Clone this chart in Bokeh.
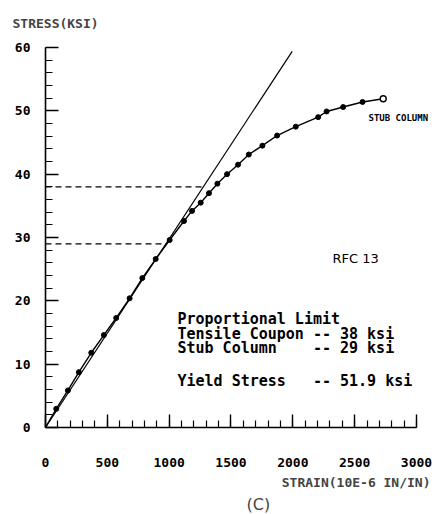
from bokeh.plotting import figure
from bokeh.models import Range1d, SingleIntervalTicker, Label, Title
from bokeh.embed import file_html
from bokeh.resources import INLINE

# Data
strain = [0, 87, 181, 270, 370, 472, 572, 680, 783, 891, 1004, 1120, 1185, 1255,
          1322, 1390, 1468, 1557, 1644, 1754, 1873, 2024, 2205, 2273, 2407, 2564, 2731]
stress = [0, 2.95, 5.85, 8.74, 11.8, 14.6, 17.3, 20.4, 23.6, 26.6, 29.6, 32.6, 34.2, 35.5,
          37.0, 38.5, 40.0, 41.5, 43.1, 44.5, 46.1, 47.5, 49.0, 49.9, 50.6, 51.4, 51.9]
elastic_x = [0, 1995]
elastic_y = [0, 59.4]
tensile_limit_x = [0, 1262]
tensile_limit_y = [38, 38]
stub_limit_x = [0, 975]
stub_limit_y = [29, 29]
x_ticks_interval = 500
y_ticks_interval = 10

MONO = "DejaVu Sans Mono"
NB = "\u00a0"

p = figure(width=437, height=514, output_backend="svg", toolbar_location=None,
           x_range=Range1d(0, 3170), y_range=Range1d(0, 60),
           min_border_left=45, min_border_right=0, min_border_top=47, min_border_bottom=87)
p.outline_line_color = None
p.xgrid.visible = False
p.ygrid.visible = False
p.background_fill_color = "white"
p.border_fill_color = "white"

for ax, interval in ((p.xaxis[0], x_ticks_interval), (p.yaxis[0], y_ticks_interval)):
    ax.ticker = SingleIntervalTicker(interval=interval, num_minor_ticks=5)
    ax.axis_line_width = 1.6
    ax.axis_line_color = "black"
    ax.major_tick_in = 13
    ax.major_tick_out = 0
    ax.minor_tick_in = 7
    ax.minor_tick_out = 0
    ax.major_tick_line_width = 1.4
    ax.minor_tick_line_width = 1.2
    ax.major_tick_line_color = "black"
    ax.minor_tick_line_color = "black"
    ax.major_label_text_font = MONO
    ax.major_label_text_font_style = "bold"
    ax.major_label_text_font_size = "13px"
    ax.major_label_text_color = "black"

p.xaxis[0].bounds = (0, 3000)
p.xaxis[0].major_label_standoff = 30
p.yaxis[0].major_label_standoff = 15

p.line(elastic_x, elastic_y, line_color="black", line_width=1.2)
p.line(tensile_limit_x, tensile_limit_y, line_color="black", line_width=1.1, line_dash="6 4")
p.line(stub_limit_x, stub_limit_y, line_color="black", line_width=1.1, line_dash="6 4")
p.line(strain, stress, line_color="black", line_width=1.4)
p.scatter(strain[1:-1], stress[1:-1], size=5, fill_color="black", line_color="black")
p.scatter(strain[-1:], stress[-1:], size=6, fill_color="white", line_color="black", line_width=1.4)

def lab(x, y, text, font=MONO, size="13px", style="bold", align="left"):
    p.add_layout(Label(x=x, y=y, text=text, text_font=font, text_font_size=size,
                       text_font_style=style, text_align=align, text_baseline="middle",
                       text_color="black"))

lab(2321, 26.7, "RFC 13", font="DejaVu Sans", size="13px", style="normal")
lab(2612, 48.9, "STUB COLUMN", size="9px")
lab(1067, 17.2, "Proportional Limit", size="15px")
lab(1067, 14.8, "Tensile Coupon -- 38 ksi", size="15px")
lab(1067, 12.6, "Stub Column" + NB * 4 + "-- 29 ksi", size="15px")
lab(1067, 7.3, "Yield Stress" + NB * 3 + "-- 51.9 ksi", size="15px")

p.add_layout(Title(text="STRESS(KSI)", align="left", vertical_align="top", offset=-33, standoff=30,
                   text_font=MONO, text_font_size="13px", text_font_style="bold"), "above")
p.add_layout(Title(text="STRAIN(10E-6 IN/IN)", align="right", offset=7, standoff=7,
                   text_font=MONO, text_font_size="13px", text_font_style="bold"), "below")
p.add_layout(Title(text="(C)", align="left", vertical_align="middle", offset=201, standoff=0,
                   text_font="DejaVu Sans", text_font_size="16px", text_font_style="normal"), "below")

open("out.html", "w").write(file_html(p, INLINE))
